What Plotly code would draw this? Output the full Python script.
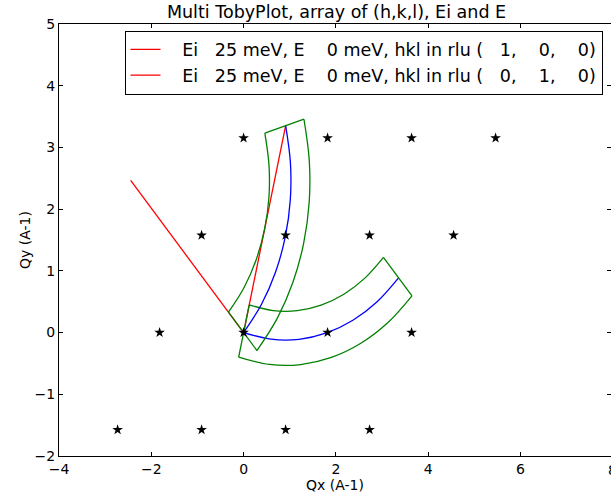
import plotly.graph_objects as go

NB = "\u00a0"

# Reciprocal lattice points (stars)
star_x = [-2.73, -0.91, 0.91, 2.73,
          -1.82, 0.00, 1.82, 3.64,
          -0.91, 0.91, 2.73, 4.55,
          0.00, 1.82, 3.64, 5.46]
star_y = [-1.576, -1.576, -1.576, -1.576,
          0.0, 0.0, 0.0, 0.0,
          1.576, 1.576, 1.576, 1.576,
          3.152, 3.152, 3.152, 3.152]

# ki lines (red)
ki1_x = [0.911, 0.0]
ki1_y = [3.352, 0.0]
ki2_x = [-2.447, 0.0]
ki2_y = [2.465, 0.0]

# Elastic trajectories (blue)
blue1_x = [0.000, 0.596, 1.202, 1.798, 2.368, 2.893, 3.358]
blue1_y = [0.000, -0.107, -0.109, -0.006, 0.199, 0.500, 0.887]
blue2_x = [0.000, 0.391, 0.695, 0.904, 1.012, 1.014, 0.911]
blue2_y = [0.000, 0.463, 0.986, 1.554, 2.150, 2.755, 3.352]

# Coverage outlines (green): inner and outer arcs
in1_x = [0.122, 0.639, 1.163, 1.679, 2.173, 2.628, 3.030]
in1_y = [0.449, 0.356, 0.355, 0.444, 0.621, 0.882, 1.218]
out1_x = [-0.107, 0.559, 1.236, 1.903, 2.540, 3.128, 3.648]
out1_y = [-0.396, -0.516, -0.518, -0.403, -0.174, 0.163, 0.596]
in2_x = [-0.328, 0.011, 0.274, 0.455, 0.549, 0.550, 0.460]
in2_y = [0.330, 0.731, 1.185, 1.676, 2.192, 2.717, 3.233]
out2_x = [0.289, 0.726, 1.067, 1.301, 1.421, 1.423, 1.308]
out2_y = [-0.291, 0.226, 0.811, 1.447, 2.113, 2.790, 3.457]

label1 = ("Ei   25 meV, E    0 meV, hkl in rlu (   1,    0,    0)").replace(" ", NB)
label2 = ("Ei   25 meV, E    0 meV, hkl in rlu (   0,    1,    0)").replace(" ", NB)

RED = "rgb(255,0,0)"
BLUE = "rgb(0,0,255)"
GREEN = "rgb(0,128,0)"
LW = 1.3

fig = go.Figure()

def arcs(ix, iy, ox, oy):
    x = list(ix) + [None] + list(ox)
    y = list(iy) + [None] + list(oy)
    return x, y

def ends(ix, iy, ox, oy):
    x = [ix[0], ox[0], None, ix[-1], ox[-1]]
    y = [iy[0], oy[0], None, iy[-1], oy[-1]]
    return x, y

# set 1
fig.add_trace(go.Scatter(x=ki1_x, y=ki1_y, mode="lines", line=dict(color=RED, width=LW),
                         name=NB * 3 + label1, showlegend=True))
fig.add_trace(go.Scatter(x=blue1_x, y=blue1_y, mode="lines", line=dict(color=BLUE, width=LW, shape="spline"),
                         showlegend=False))
ax, ay = arcs(in1_x, in1_y, out1_x, out1_y)
fig.add_trace(go.Scatter(x=ax, y=ay, mode="lines", line=dict(color=GREEN, width=LW, shape="spline"),
                         showlegend=False))
ex, ey = ends(in1_x, in1_y, out1_x, out1_y)
fig.add_trace(go.Scatter(x=ex, y=ey, mode="lines", line=dict(color=GREEN, width=LW), showlegend=False))

# set 2
fig.add_trace(go.Scatter(x=ki2_x, y=ki2_y, mode="lines", line=dict(color=RED, width=LW),
                         name=NB * 3 + label2, showlegend=True))
fig.add_trace(go.Scatter(x=blue2_x, y=blue2_y, mode="lines", line=dict(color=BLUE, width=LW, shape="spline"),
                         showlegend=False))
ax, ay = arcs(in2_x, in2_y, out2_x, out2_y)
fig.add_trace(go.Scatter(x=ax, y=ay, mode="lines", line=dict(color=GREEN, width=LW, shape="spline"),
                         showlegend=False))
ex, ey = ends(in2_x, in2_y, out2_x, out2_y)
fig.add_trace(go.Scatter(x=ex, y=ey, mode="lines", line=dict(color=GREEN, width=LW), showlegend=False))

# stars
fig.add_trace(go.Scatter(x=star_x, y=star_y, mode="markers",
                         marker=dict(symbol="star", size=8, color="black", line=dict(width=0)),
                         showlegend=False))

# invisible trace for right-hand tick axis
fig.add_trace(go.Scatter(x=[0], y=[0], yaxis="y2", mode="markers", marker=dict(opacity=0),
                         showlegend=False, hoverinfo="skip"))

FONT = "DejaVu Sans"
axis_common = dict(showgrid=False, zeroline=False, ticks="inside", ticklen=4, tickwidth=1,
                   tickcolor="black", showline=True, linecolor="black", linewidth=1,
                   tickfont=dict(family=FONT, size=14, color="black"))

fig.update_layout(
    width=611, height=493,
    margin=dict(l=59, r=0, t=24, b=37),
    paper_bgcolor="white", plot_bgcolor="white",
    font=dict(family=FONT, color="black"),
    title=dict(text="Multi TobyPlot, array of (h,k,l), Ei and E",
               font=dict(family=FONT, size=17.5, color="black"),
               x=(336.5) / 611, xanchor="center", xref="container",
               y=1 - 12 / 493, yanchor="middle", yref="container"),
    xaxis=dict(range=[-4, 7.961], tickvals=[-4, -2, 0, 2, 4, 6], mirror="ticks",
               title=dict(text="Qx (A-1)", font=dict(family=FONT, size=14, color="black"), standoff=2),
               **axis_common),
    yaxis=dict(range=[-2, 5], tickvals=[-2, -1, 0, 1, 2, 3, 4, 5], mirror=False,
               title=dict(text="Qy (A-1)", font=dict(family=FONT, size=14, color="black"), standoff=0),
               **axis_common),
    yaxis2=dict(range=[-2, 5], overlaying="y", side="right", tickvals=[-2, -1, 0, 1, 2, 3, 4, 5],
                showticklabels=False, ticks="inside", ticklen=4, tickcolor="black",
                showgrid=False, zeroline=False, showline=False),
    legend=dict(x=(124.5 - 59) / 552, y=1 - (30.5 - 24) / 432, xanchor="left", yanchor="top",
                bgcolor="white", bordercolor="black", borderwidth=1,
                font=dict(family=FONT, size=17.5, color="black")),
    showlegend=True,
)

fig.add_annotation(x=(612.6 - 59) / 552, y=0, xref="paper", yref="paper", text="8", showarrow=False,
                   xanchor="center", yanchor="top", yshift=-4, font=dict(family=FONT, size=14, color="black"))

fig.write_html("out.html")
